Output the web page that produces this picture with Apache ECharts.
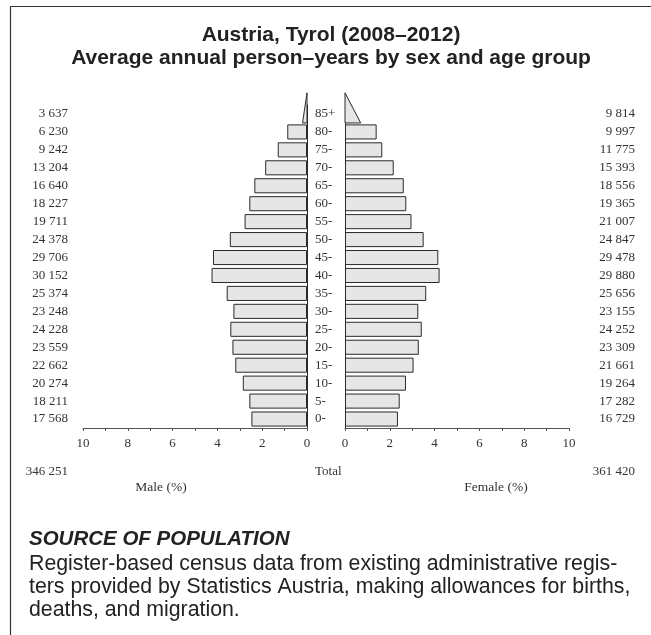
<!DOCTYPE html>
<html>
<head>
<meta charset="utf-8">
<script src="https://cdn.jsdelivr.net/npm/echarts@6/dist/echarts.min.js"></script>
<style>
html,body{margin:0;padding:0;background:#fff;}
#c{width:651px;height:635px;}
</style>
</head>
<body>
<div id="c"></div>
<script>
// ---- data (bottom to top) ----
var ageGroups = ['0-','5-','10-','15-','20-','25-','30-','35-','40-','45-','50-','55-','60-','65-','70-','75-','80-','85+'];
var maleCounts = [17568,18211,20274,22662,23559,24228,23248,25374,30152,29706,24378,19711,18227,16640,13204,9242,6230,3637];
var femaleCounts = [16729,17282,19264,21661,23309,24252,23155,25656,29880,29478,24847,21007,19365,18556,15393,11775,9997,9814];
var maleTotal = 346251;
var femaleTotal = 361420;
// open-ended 85+ group drawn as a triangle: base width (%)
var openMaleBase = 0.2;
var openFemaleBase = 0.7;

var grand = maleTotal + femaleTotal;
var openIdx = ageGroups.length - 1;
function pct(v){ return v / grand * 100; }
var maleBars = maleCounts.map(function(v,i){ return i === openIdx ? '-' : pct(v); });
var femaleBars = femaleCounts.map(function(v,i){ return i === openIdx ? '-' : pct(v); });
function fmtS(n){ return String(n).replace(/\B(?=(\d{3})+(?!\d))/g, ' '); }

var serif = '"Liberation Serif", "Times New Roman", serif';
var sans = '"Liberation Sans", Arial, sans-serif';
var barFill = '#e6e6e6';
var barLine = '#2a2a2a';
var axisCol = '#555';

function triangle(base){
  return function(params, api){
    var c = api.coord([0, openIdx]);
    var band = api.size([0, 1])[1];
    var bottom = c[1] + band/2;
    var top = bottom - 1.68 * band;
    var p = api.coord([base, openIdx]);
    return {
      type: 'polygon',
      shape: { points: [[c[0], bottom],[p[0], bottom],[c[0], top]] },
      style: { fill: barFill, stroke: barLine, lineWidth: 1 }
    };
  };
}

var xAxisCommon = {
  type: 'value', min: 0, max: 10, interval: 2,
  axisLine: { show: true, lineStyle: { color: axisCol, width: 1 } },
  axisTick: { show: true, length: 3, lineStyle: { color: axisCol } },
  minorTick: { show: true, splitNumber: 2, length: 3, lineStyle: { color: axisCol } },
  splitLine: { show: false },
  axisLabel: { color: '#333', fontFamily: serif, fontSize: 13, margin: 9 }
};

var chart = echarts.init(document.getElementById('c'), null, { renderer: 'canvas' });
chart.setOption({
  animation: false,
  backgroundColor: '#fff',
  grid: [
    { left: 83, width: 224, top: 105, height: 323 },
    { left: 345, width: 224, top: 105, height: 323 }
  ],
  xAxis: [
    Object.assign({}, xAxisCommon, { gridIndex: 0, inverse: true }),
    Object.assign({}, xAxisCommon, { gridIndex: 1 })
  ],
  yAxis: [
    { type: 'category', gridIndex: 0, position: 'right', data: ageGroups,
      axisLine: { show: true, lineStyle: { color: barLine, width: 1 } }, axisTick: { show: false },
      axisLabel: { show: true, color: '#333', fontFamily: serif, fontSize: 13, margin: 8, align: 'left' } },
    { type: 'category', gridIndex: 0, position: 'left', data: maleCounts.map(fmtS),
      axisLine: { show: false }, axisTick: { show: false },
      axisLabel: { show: true, color: '#333', fontFamily: serif, fontSize: 13, margin: 15, align: 'right' } },
    { type: 'category', gridIndex: 1, position: 'left', data: ageGroups,
      axisLine: { show: true, lineStyle: { color: barLine, width: 1 } }, axisTick: { show: false },
      axisLabel: { show: false } },
    { type: 'category', gridIndex: 1, position: 'right', data: femaleCounts.map(fmtS),
      axisLine: { show: false }, axisTick: { show: false },
      axisLabel: { show: true, color: '#333', fontFamily: serif, fontSize: 13, margin: 66, align: 'right' } }
  ],
  series: [
    { type: 'bar', xAxisIndex: 0, yAxisIndex: 0, data: maleBars, barCategoryGap: '16%',
      itemStyle: { color: barFill, borderColor: barLine, borderWidth: 1 } },
    { type: 'bar', xAxisIndex: 1, yAxisIndex: 2, data: femaleBars, barCategoryGap: '16%',
      itemStyle: { color: barFill, borderColor: barLine, borderWidth: 1 } },
    { type: 'custom', xAxisIndex: 0, yAxisIndex: 0, clip: false, data: [[0, openIdx]],
      renderItem: triangle(openMaleBase) },
    { type: 'custom', xAxisIndex: 1, yAxisIndex: 2, clip: false, data: [[0, openIdx]],
      renderItem: triangle(openFemaleBase) }
  ],
  graphic: [
    { type: 'line', shape: { x1: 10.5, y1: 6.5, x2: 651, y2: 6.5 }, style: { stroke: '#333', lineWidth: 1.2 } },
    { type: 'line', shape: { x1: 10.5, y1: 6.5, x2: 10.5, y2: 635 }, style: { stroke: '#333', lineWidth: 1.2 } },
    { type: 'text', x: 331, y: 35, style: { text: 'Austria, Tyrol (2008\u20132012)', textAlign: 'center', textVerticalAlign: 'middle', fill: '#222', font: 'bold 21px ' + sans } },
    { type: 'text', x: 331, y: 58, style: { text: 'Average annual person\u2013years by sex and age group', textAlign: 'center', textVerticalAlign: 'middle', fill: '#222', font: 'bold 21px ' + sans } },
    { type: 'text', x: 68, y: 472, style: { text: fmtS(maleTotal), textAlign: 'right', textVerticalAlign: 'middle', fill: '#333', font: '13px ' + serif } },
    { type: 'text', x: 315, y: 472, style: { text: 'Total', textAlign: 'left', textVerticalAlign: 'middle', fill: '#333', font: '13px ' + serif } },
    { type: 'text', x: 635, y: 472, style: { text: fmtS(femaleTotal), textAlign: 'right', textVerticalAlign: 'middle', fill: '#333', font: '13px ' + serif } },
    { type: 'text', x: 161, y: 487, style: { text: 'Male (%)', textAlign: 'center', textVerticalAlign: 'middle', fill: '#333', font: '13.5px ' + serif } },
    { type: 'text', x: 496, y: 487, style: { text: 'Female (%)', textAlign: 'center', textVerticalAlign: 'middle', fill: '#333', font: '13.5px ' + serif } },
    { type: 'text', x: 29, y: 539, style: { text: 'SOURCE OF POPULATION', textVerticalAlign: 'middle', fill: '#222', font: 'italic bold 20.5px ' + sans } },
    { type: 'text', x: 29, y: 564, style: { text: 'Register-based census data from existing administrative regis-', textVerticalAlign: 'middle', fill: '#222', font: '21.3px ' + sans } },
    { type: 'text', x: 29, y: 587, style: { text: 'ters provided by Statistics Austria, making allowances for births,', textVerticalAlign: 'middle', fill: '#222', font: '21.3px ' + sans } },
    { type: 'text', x: 29, y: 610, style: { text: 'deaths, and migration.', textVerticalAlign: 'middle', fill: '#222', font: '21.3px ' + sans } }
  ]
});
</script>
</body>
</html>
